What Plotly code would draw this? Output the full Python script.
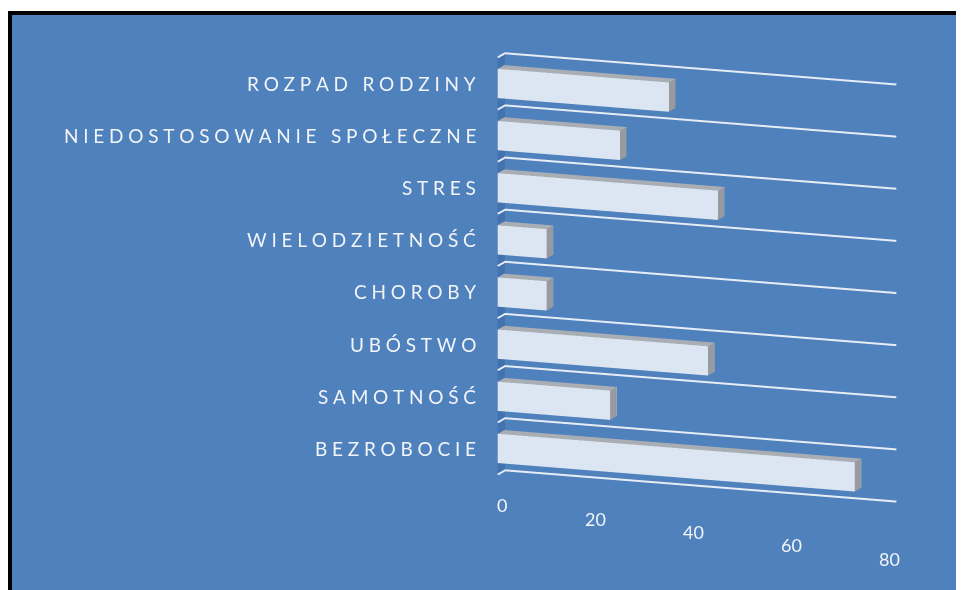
import plotly.graph_objects as go

KATEGORIE = [
    "BEZROBOCIE",
    "SAMOTNOŚĆ",
    "UBÓSTWO",
    "CHOROBY",
    "WIELODZIETNOŚĆ",
    "STRES",
    "NIEDOSTOSOWANIE SPOŁECZNE",
    "ROZPAD RODZINY",
]
WARTOSCI = [73, 23, 43, 10, 10, 45, 25, 35]
OS_X = [0, 20, 40, 60, 80]

NIEBIESKI = "#4F81BD"
SCIANA = "#4373AF"
JASNY = "#DCE6F2"
GORA = "#A9AEB4"
BOK = "#979BA0"
TEKST = "#F2F4F8"
SIATKA = "#E6EDF6"
W, H = 964, 590


def rozstrzel(s):
    # Excel rozstrzela litery etykiet
    return "\u2009\u2009".join(s)


def mesh_slupki(wartosci, luka=0.22, glebokosc=0.9):
    xs, ys, zs, ii, jj, kk, kolory = [], [], [], [], [], [], []
    sciany = [
        ((0, 1, 5), JASNY), ((0, 5, 4), JASNY),      # przód
        ((3, 2, 6), JASNY), ((3, 6, 7), JASNY),      # tył
        ((0, 1, 2), GORA), ((0, 2, 3), GORA),        # dół
        ((4, 5, 6), GORA), ((4, 6, 7), GORA),        # góra
        ((0, 3, 7), BOK), ((0, 7, 4), BOK),          # lewa
        ((1, 2, 6), BOK), ((1, 6, 5), BOK),          # prawa
    ]
    for n, v in enumerate(wartosci):
        z0, z1 = n + luka, n + 1 - luka
        baza = len(xs)
        xs += [0, v, v, 0, 0, v, v, 0]
        ys += [0, 0, glebokosc, glebokosc] * 2
        zs += [z0] * 4 + [z1] * 4
        for (a, b, c), kol in sciany:
            ii.append(baza + a)
            jj.append(baza + b)
            kk.append(baza + c)
            kolory.append(kol)
    return go.Mesh3d(
        x=xs, y=ys, z=zs, i=ii, j=jj, k=kk,
        facecolor=kolory,
        flatshading=True,
        lighting=dict(ambient=1, diffuse=0, specular=0, roughness=1, fresnel=0),
        hoverinfo="skip",
    )


def linie_siatki(n_kat, x_max):
    # linie na granicach kategorii: lewa ściana + tylna ściana
    xs, ys, zs = [], [], []
    for z in range(n_kat + 1):
        xs += [0, 0, x_max, None]
        ys += [0, 1, 1, None]
        zs += [z, z, z, None]
    return go.Scatter3d(
        x=xs, y=ys, z=zs, mode="lines",
        line=dict(color=SIATKA, width=4),
        hoverinfo="skip",
    )


fig = go.Figure([mesh_slupki(WARTOSCI), linie_siatki(len(KATEGORIE), OS_X[-1])])

etykiety = [
    dict(
        x=0, y=0, z=n + 0.5,
        text=rozstrzel(nazwa),
        showarrow=False,
        xanchor="right",
        xshift=-20,
        yshift=0,
        font=dict(family="Lato", size=19, color=TEKST),
    )
    for n, nazwa in enumerate(KATEGORIE)
]
# w Excelu perspektywa mocniej opuszcza dalsze etykiety osi wartości
etykiety += [
    dict(
        x=v, y=0, z=0,
        text=str(v),
        showarrow=False,
        xanchor="center",
        xshift=4 if v == 0 else 0,
        yshift=-(31 + 22 * v / OS_X[-1]),
        font=dict(family="Lato", size=18, color=TEKST),
    )
    for v in OS_X
]

os_bez = dict(showspikes=False, zeroline=False, showline=False, ticks="", title=dict(text=""))
fig.update_layout(
    width=W, height=H,
    margin=dict(l=0, r=0, t=0, b=0),
    paper_bgcolor=NIEBIESKI,
    showlegend=False,
    scene=dict(
        domain=dict(x=[0.44, 0.99], y=[0.085, 0.995]),
        bgcolor="rgba(0,0,0,0)",
        xaxis=dict(
            range=[0, 80], showgrid=False, showticklabels=False,
            showbackground=True, backgroundcolor=SCIANA, **os_bez,
        ),
        yaxis=dict(range=[0, 1], showgrid=False, showticklabels=False, showbackground=False, **os_bez),
        zaxis=dict(range=[0, 8], showgrid=False, showticklabels=False, showbackground=False, **os_bez),
        aspectmode="manual",
        aspectratio=dict(x=1.556, y=0.078, z=1.59),
        camera=dict(
            eye=dict(x=0.342 * 1.2, y=-0.915 * 1.2, z=0.2135 * 1.2),
            up=dict(x=0, y=0, z=1),
            projection=dict(type="orthographic"),
        ),
        annotations=etykiety,
    ),
    shapes=[
        dict(type="rect", xref="paper", yref="paper", x0=0, x1=1, y0=1 - 7 / H, y1=1 - 3 / H,
             fillcolor="black", line_width=0),
        dict(type="rect", xref="paper", yref="paper", x0=0, x1=1, y0=1 - 3 / H, y1=1,
             fillcolor="white", line_width=0),
        dict(type="rect", xref="paper", yref="paper", x0=0, x1=4 / W, y0=0, y1=1 - 3 / H,
             fillcolor="black", line_width=0),
    ],
)

fig.write_html("out.html", config=dict(displayModeBar=False))
